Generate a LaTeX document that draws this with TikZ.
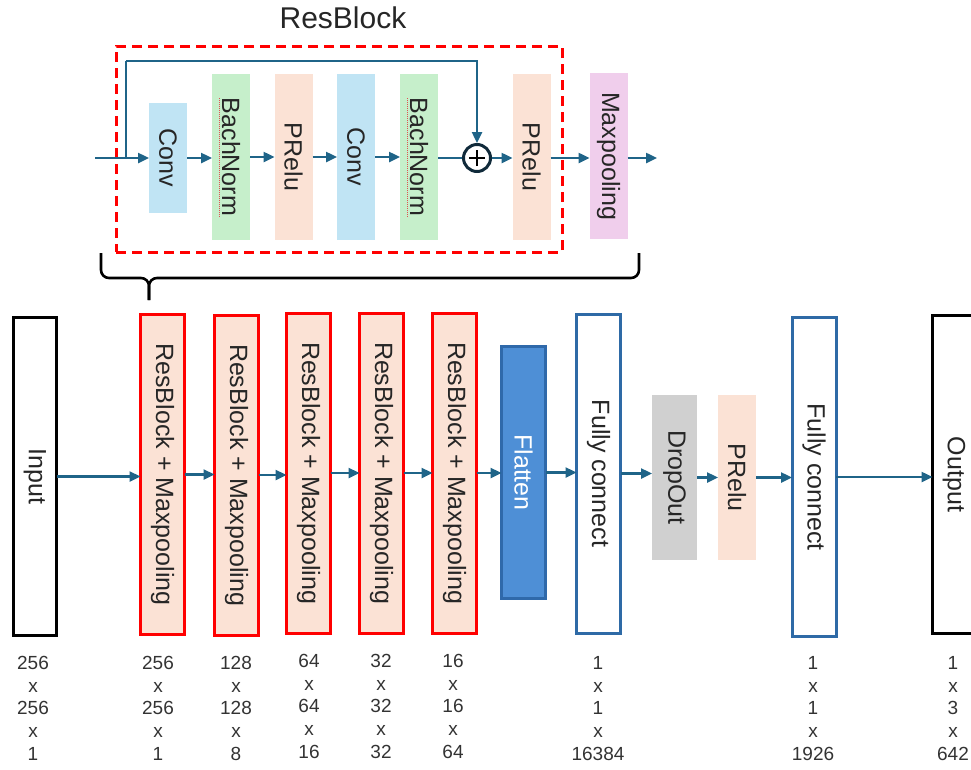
\documentclass[tikz,border=0pt]{standalone}
\usepackage{fontspec}
\setmainfont{Liberation Sans}
\usepackage{graphicx}
\usetikzlibrary{arrows.meta}
\definecolor{arrc}{HTML}{1F6488}
\definecolor{txt}{HTML}{262626}
\definecolor{lblc}{HTML}{333333}
\definecolor{convc}{HTML}{C0E4F4}
\definecolor{bnc}{HTML}{C6EFCB}
\definecolor{peach}{HTML}{FBE2D5}
\definecolor{pinkc}{HTML}{F0CEEC}
\definecolor{grayc}{HTML}{D0D0D0}
\definecolor{flatc}{HTML}{4E8FD6}
\definecolor{flatb}{HTML}{2F69AA}
\definecolor{fcb}{HTML}{2E6AA6}
\definecolor{circc}{HTML}{102A3A}
\definecolor{spellc}{HTML}{E05050}
\begin{document}
\begin{tikzpicture}[x=1pt,y=-1pt,
  conn/.style={draw=arrc,line width=2.4pt,-{Triangle[length=11pt,width=10pt]}},
  plainline/.style={draw=arrc,line width=2.4pt},
  blk/.style={rectangle,inner sep=0pt,outer sep=0pt,text=txt,font=\fontsize{25}{30}\selectfont},
  topbox/.style={blk,minimum width=38pt,minimum height=166pt},
  rbbox/.style={blk,draw=red,line width=3pt,fill=peach,minimum width=44pt,minimum height=320pt},
  fcbox/.style={blk,draw=fcb,line width=3pt,fill=white,minimum width=44pt,minimum height=319pt},
  iobox/.style={blk,draw=black,line width=3pt,fill=white,minimum width=43pt,minimum height=318pt},
  lbl/.style={anchor=north,align=center,inner sep=0pt,text=lblc,font=\fontsize{19}{22.75}\selectfont}]
\useasboundingbox (0,0) rectangle (971,769);

% ---------- ResBlock detail ----------
\node[text=txt,font=\fontsize{30}{36}\selectfont,inner sep=0pt] (title) at (343,18) {ResBlock};
\node[draw=red,line width=3pt,dash pattern=on 10pt off 6pt,minimum width=446pt,minimum height=206pt,inner sep=0pt] (rbframe) at (339,149) {};

\node[topbox,fill=convc,minimum height=110pt] (c1) at (168,158) {\rotatebox{-90}{Conv}};
\node[topbox,fill=bnc] (b1) at (231,157) {\rotatebox{-90}{BachNorm}};
\node[topbox,fill=peach] (p1) at (293.5,157) {\rotatebox{-90}{PRelu}};
\node[topbox,fill=convc] (c2) at (356,157) {\rotatebox{-90}{Conv}};
\node[topbox,fill=bnc] (b2) at (419,157) {\rotatebox{-90}{BachNorm}};
\node[circle,draw=circc,line width=3pt,minimum size=27pt,inner sep=0pt] (plus) at (477,158) {};
\node[topbox,fill=peach] (p2) at (531.5,157) {\rotatebox{-90}{PRelu}};
\node[topbox,fill=pinkc] (mp) at (608.5,156) {\rotatebox{-90}{Maxpooling}};

\draw[spellc,line width=0.6pt,dash pattern=on 1pt off 1pt] (219.5,98) -- (219.5,217);
\draw[spellc,line width=0.6pt,dash pattern=on 1pt off 1pt] (407.5,98) -- (407.5,217);

\draw[black,line width=1.3pt] ([xshift=-8pt]plus.center) -- ([xshift=8pt]plus.center);
\draw[black,line width=1.3pt] ([yshift=-8pt]plus.center) -- ([yshift=8pt]plus.center);

\coordinate (tin) at (95,158);
\coordinate (sk) at (126,158);
\coordinate (sktop) at (126,61);
\coordinate (tout) at (657,158);
\draw[conn] (tin) -- (c1.west);
\draw[plainline] (sk) -- (sktop);
\draw[conn] (sktop) -| (plus.north);
\draw[conn] (c1.east) -- (c1.east -| b1.west);
\draw[conn] (b1.east) -- (b1.east -| p1.west);
\draw[conn] (p1.east) -- (p1.east -| c2.west);
\draw[conn] (c2.east) -- (c2.east -| b2.west);
\draw[plainline] (b2.east |- plus.west) -- (plus.west);
\draw[conn] (plus.east) -- (plus.east -| p2.west);
\draw[conn] (p2.east |- plus.east) -- (plus.east -| mp.west);
\draw[conn] (mp.east |- plus.east) -- (tout);

% brace
\draw[black,line width=2.6pt,rounded corners=8pt] (101,253) -- (101,278) -- (149,278) -- (149,300);
\draw[black,line width=2.6pt,rounded corners=8pt] (149,300) -- (149,278) -- (639,278) -- (639,253);

% ---------- main network ----------
\node[iobox] (inp) at (35,476.5) {\rotatebox{-90}{Input}};
\node[rbbox] (r1) at (162.5,474.5) {\rotatebox{-90}{ResBlock + Maxpooling}};
\node[rbbox] (r2) at (236.5,475) {\rotatebox{-90}{ResBlock + Maxpooling}};
\node[rbbox] (r3) at (308.5,473) {\rotatebox{-90}{ResBlock + Maxpooling}};
\node[rbbox] (r4) at (381.5,473) {\rotatebox{-90}{ResBlock + Maxpooling}};
\node[rbbox] (r5) at (454.5,473) {\rotatebox{-90}{ResBlock + Maxpooling}};
\node[blk,draw=flatb,line width=3pt,fill=flatc,text=white,minimum width=44pt,minimum height=252pt] (fl) at (523.5,472.5) {\rotatebox{-90}{Flatten}};
\node[fcbox] (fc1) at (598.5,473.5) {\rotatebox{-90}{Fully connect}};
\node[blk,fill=grayc,minimum width=45pt,minimum height=165pt] (dr) at (674.5,477.5) {\rotatebox{-90}{DropOut}};
\node[blk,fill=peach,minimum width=38pt,minimum height=165pt] (pr) at (737,477.5) {\rotatebox{-90}{PRelu}};
\node[fcbox] (fc2) at (814,477) {\rotatebox{-90}{Fully connect}};
\node[iobox] (outp) at (954,474.5) {\rotatebox{-90}{Output}};

\draw[conn] (inp.east) -- (inp.east -| r1.west);
\draw[conn] (r1.east) -- (r1.east -| r2.west);
\draw[conn] (r2.east) -- (r2.east -| r3.west);
\draw[conn] (r3.east) -- (r3.east -| r4.west);
\draw[conn] (r4.east) -- (r4.east -| r5.west);
\draw[conn] (r5.east) -- (r5.east -| fl.west);
\draw[conn] (fl.east) -- (fl.east -| fc1.west);
\draw[conn] (fc1.east) -- (fc1.east -| dr.west);
\draw[conn] (dr.east) -- (dr.east -| pr.west);
\draw[conn] (pr.east) -- (pr.east -| fc2.west);
\draw[conn] (fc2.east) -- (fc2.east -| outp.west);

% ---------- dimension labels ----------
\node[lbl] (l0) at (33,656) {256\\x\\256\\x\\1};
\node[lbl] (l1) at (158,656) {256\\x\\256\\x\\1};
\node[lbl] (l2) at (236,656) {128\\x\\128\\x\\8};
\node[lbl] (l3) at (309,654) {64\\x\\64\\x\\16};
\node[lbl] (l4) at (381,654) {32\\x\\32\\x\\32};
\node[lbl] (l5) at (453,654) {16\\x\\16\\x\\64};
\node[lbl] (l6) at (598,656) {1\\x\\1\\x\\16384};
\node[lbl] (l7) at (813,656) {1\\x\\1\\x\\1926};
\node[lbl] (l8) at (953,656) {1\\x\\3\\x\\642};
\end{tikzpicture}
\end{document}
